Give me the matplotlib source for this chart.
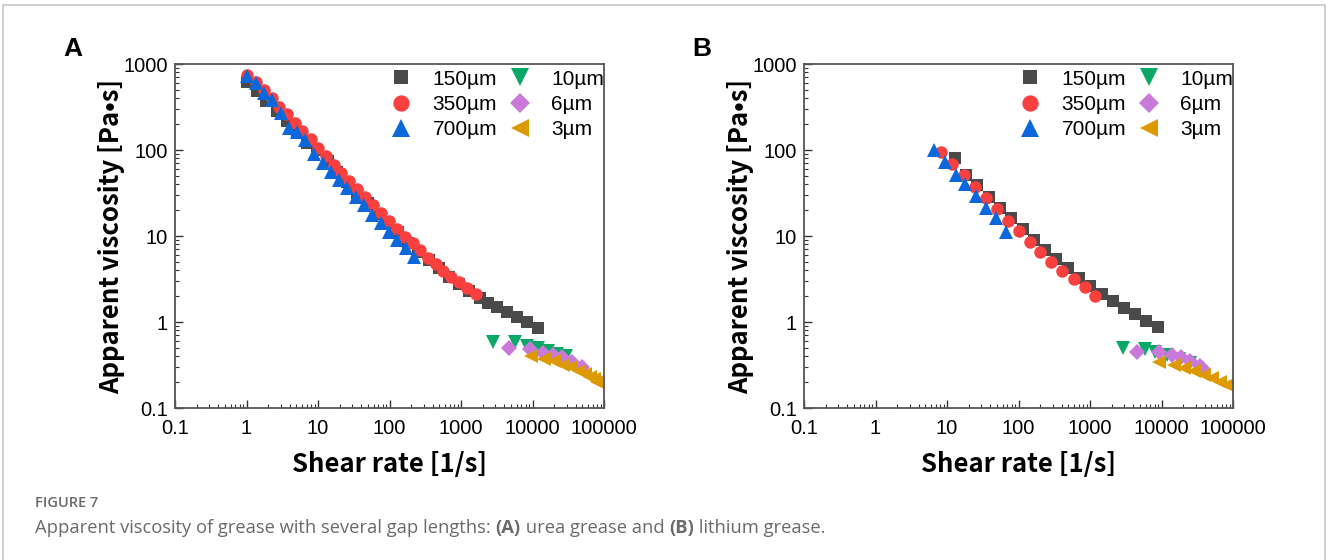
import matplotlib
matplotlib.use("Agg")
import matplotlib.pyplot as plt
import matplotlib.ticker as tck
from matplotlib.lines import Line2D

W, H = 1327, 560

# ---- data ----
# panel A: urea grease
a_150_x = [1.0, 1.38, 1.9, 2.66, 3.67, 5.06, 7.05, 9.73, 13.6, 18.7, 25.8, 35.2, 49.9, 69.6, 95.8,
           132, 184, 254, 352, 489, 676, 942, 1300, 1840, 2390, 3190, 4400, 6070, 8380, 11900]
a_150_y = [623, 490, 375, 284, 217, 160, 122, 100, 74, 55, 42, 32, 24.5, 18, 14,
           11, 8.4, 6.6, 5.2, 4.2, 3.35, 2.75, 2.3, 1.9, 1.66, 1.49, 1.31, 1.14, 1.0, 0.85]
a_350_x = [1.03, 1.35, 1.77, 2.26, 2.86, 3.74, 4.8, 6.07, 7.94, 10.0, 12.9, 16.8, 21.3, 27.3, 34.9,
           45.2, 59.1, 75.7, 98.9, 127, 164, 210, 269, 351, 445, 569, 721, 942, 1208, 1611]
a_350_y = [745, 612, 499, 399, 319, 260, 208, 166, 133, 106, 85, 67, 53.6, 43.6, 34.9,
           28.7, 22.9, 18.4, 14.9, 12.0, 9.8, 8.2, 6.9, 5.6, 4.7, 3.95, 3.37, 2.89, 2.51, 2.1]
a_700_x = [1.03, 1.35, 1.77, 2.26, 3.02, 3.94, 5.06, 6.53, 8.85, 11.6, 15.1, 19.7, 25.8, 33.7,
           44.0, 57.5, 75.1, 98.2, 128, 168, 219]
a_700_y = [725, 596, 464, 381, 272, 180, 160, 129, 90, 70, 56, 44.8, 35.8, 28.7,
           22.9, 17.5, 14.0, 11.2, 9.0, 7.2, 5.75]
a_10_x = [2800, 5700, 8400, 12000, 16500, 22000, 29000]
a_10_y = [0.59, 0.58, 0.53, 0.5, 0.46, 0.43, 0.4]
a_6_x = [4700, 9300, 14200, 19600, 26000, 36000, 49000]
a_6_y = [0.5, 0.49, 0.44, 0.41, 0.39, 0.34, 0.3]
a_3_x = [9500, 14500, 20000, 27000, 35000, 44000, 54000, 64000, 73000, 80000]
a_3_y = [0.4, 0.37, 0.35, 0.32, 0.3, 0.27, 0.25, 0.23, 0.215, 0.2]

# panel B: lithium grease
b_150_x = [12.8, 18.4, 26.2, 38.2, 54.4, 78.5, 114, 163, 237, 338, 487, 695, 1012, 1473, 2100,
           3030, 4320, 6150, 8960]
b_150_y = [80, 51, 39, 28.6, 21, 16, 12, 9.0, 6.9, 5.4, 4.2, 3.28, 2.62, 2.12, 1.77,
           1.47, 1.23, 1.03, 0.87]
b_350_x = [8.2, 11.7, 17.4, 24.8, 35.0, 50.0, 70.4, 100, 143, 202, 288, 406, 591, 843, 1190]
b_350_y = [96, 68, 51, 37.5, 27.4, 20.4, 15.1, 11.4, 8.6, 6.6, 5.0, 3.96, 3.13, 2.53, 2.02]
b_700_x = [6.6, 9.45, 13.3, 18.0, 25.4, 35.0, 48.4, 66.8]
b_700_y = [100, 72, 51, 40, 29, 21, 16, 11.2]
b_10_x = [2900, 5800, 8200, 12000, 17500, 25400]
b_10_y = [0.5, 0.49, 0.45, 0.41, 0.37, 0.33]
b_6_x = [4600, 9300, 14000, 18500, 25000, 34000, 38000]
b_6_y = [0.45, 0.445, 0.41, 0.39, 0.35, 0.31, 0.285]
b_3_x = [9160, 14900, 20500, 28300, 39100, 51100, 66800, 82800]
b_3_y = [0.346, 0.316, 0.289, 0.27, 0.242, 0.221, 0.202, 0.185]

labels = ["150µm", "350µm", "700µm", "10µm", "6µm", "3µm"]
x_ticks = [0.1, 1, 10, 100, 1000, 10000, 100000]
x_tick_labels = ["0.1", "1", "10", "100", "1000", "10000", "100000"]
y_ticks = [0.1, 1, 10, 100, 1000]
y_tick_labels = ["0.1", "1", "10", "100", "1000"]

styles = [
    dict(marker="s", color="#4a4a4a", ms=8),
    dict(marker="o", color="#f9403f", ms=9),
    dict(marker="^", color="#0a68dc", ms=9.5),
    dict(marker="v", color="#0aa866", ms=9.5),
    dict(marker="D", color="#c97ad9", ms=8),
    dict(marker="<", color="#dd9a00", ms=9.5),
]

panels = [
    ("A", 175, [(a_150_x, a_150_y), (a_350_x, a_350_y), (a_700_x, a_700_y),
                (a_10_x, a_10_y), (a_6_x, a_6_y), (a_3_x, a_3_y)]),
    ("B", 804, [(b_150_x, b_150_y), (b_350_x, b_350_y), (b_700_x, b_700_y),
                (b_10_x, b_10_y), (b_6_x, b_6_y), (b_3_x, b_3_y)]),
]

label_font = ["Noto Sans CJK JP", "DejaVu Sans"]

fig = plt.figure(figsize=(W / 100, H / 100), dpi=100)

for letter, left_px, series in panels:
    ax = fig.add_axes([left_px / W, 1 - 408 / H, 429 / W, 344 / H])
    handles = []
    for (xs, ys), st, lab in zip(series, styles, labels):
        h, = ax.plot(xs, ys, linestyle="none", marker=st["marker"], color=st["color"],
                     markersize=st["ms"], markeredgewidth=0, label=lab)
        handles.append(h)
    ax.set_xscale("log")
    ax.set_yscale("log")
    ax.set_xlim(0.1, 100000)
    ax.set_ylim(0.1, 1000)

    ax.xaxis.set_major_locator(tck.FixedLocator(x_ticks))
    ax.xaxis.set_major_formatter(tck.FixedFormatter(x_tick_labels))
    ax.yaxis.set_major_locator(tck.FixedLocator(y_ticks))
    ax.yaxis.set_major_formatter(tck.FixedFormatter(y_tick_labels))
    ax.xaxis.set_minor_locator(tck.LogLocator(base=10, subs=range(2, 10), numticks=20))
    ax.yaxis.set_minor_locator(tck.LogLocator(base=10, subs=range(2, 10), numticks=20))
    ax.xaxis.set_minor_formatter(tck.NullFormatter())
    ax.yaxis.set_minor_formatter(tck.NullFormatter())

    ax.tick_params(which="both", direction="in", top=False, right=False, color="#333333")
    ax.tick_params(which="major", length=6, width=1, labelsize=14.5)
    ax.tick_params(axis="x", which="major", pad=8)
    ax.tick_params(axis="y", which="major", pad=5)
    ax.tick_params(which="minor", length=3, width=0.8)
    for lab in ax.get_xticklabels() + ax.get_yticklabels():
        lab.set_family("Liberation Sans")
    for sp in ax.spines.values():
        sp.set_color("#555555")
        sp.set_linewidth(1.3)

    ax.set_xlabel("Shear rate [1/s]", fontsize=18.5, family=label_font, fontweight="bold",
                  labelpad=9)
    ax.set_ylabel("Apparent viscosity [Pa•s]", fontsize=18.5, family=label_font,
                  fontweight="bold", labelpad=-1)

    leg = ax.legend(handles=handles, ncol=2, loc="upper right", bbox_to_anchor=(1.03, 1.02),
                    frameon=False, markerscale=1.3, handletextpad=1.0, columnspacing=0.6,
                    labelspacing=0.3, borderaxespad=0.2, handlelength=1.0,
                    prop={"family": "Liberation Sans", "size": 15})

    fig.text((left_px - 102) / W, 1 - 49 / H, letter, fontsize=19, fontweight="bold",
             family="Liberation Sans", ha="center", va="center")

# caption
fig.text(35 / W, 1 - 507 / H, "FIGURE 7", fontsize=10.5, fontweight="semibold", color="#6a6a6a",
         family="Open Sans", va="baseline")
parts = [("Apparent viscosity of grease with several gap lengths: ", "normal"),
         ("(A)", "bold"), (" urea grease and ", "normal"), ("(B)", "bold"),
         (" lithium grease.", "normal")]
fig.canvas.draw()
r = fig.canvas.get_renderer()
xpos = 35
for txt, wt in parts:
    t = fig.text(xpos / W, 1 - 533 / H, txt, fontsize=13.2, fontweight=wt, color="#6a6a6a",
                 family="Open Sans", va="baseline")
    xpos += t.get_window_extent(renderer=r).width

# outer frame
fc = "#c8c8c8"
fig.add_artist(Line2D([3 / W, 3 / W], [0, 1 - 5 / H], color=fc, lw=1.2, transform=fig.transFigure))
fig.add_artist(Line2D([3 / W, 1325 / W], [1 - 5 / H, 1 - 5 / H], color=fc, lw=1.2,
                      transform=fig.transFigure))
fig.add_artist(Line2D([1325 / W, 1325 / W], [0, 1 - 5 / H], color=fc, lw=1.2,
                      transform=fig.transFigure))

fig.savefig("out.png", dpi=100)
